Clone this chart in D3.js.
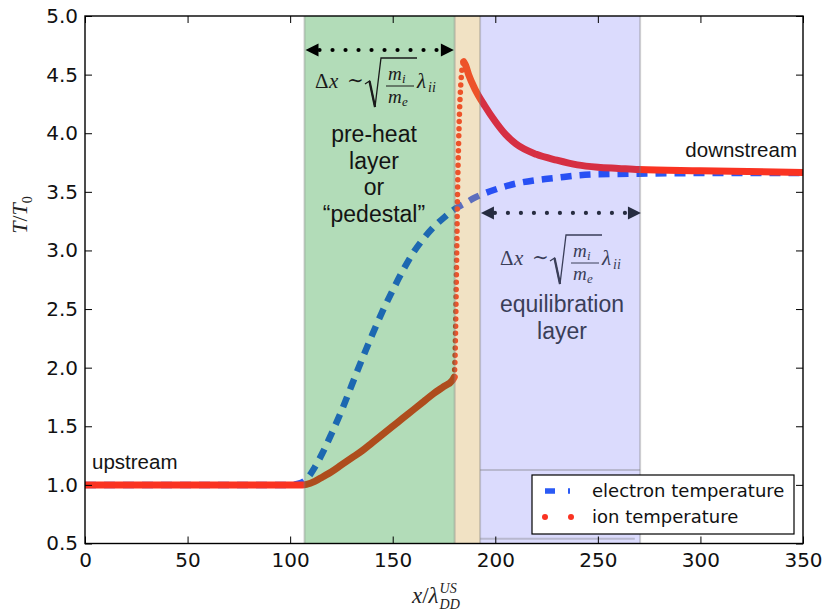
<!DOCTYPE html>
<html><head><meta charset="utf-8">
<script src="https://cdn.jsdelivr.net/npm/d3@7"></script>
<style>html,body{margin:0;padding:0;background:#fff;}svg{display:block;}</style>
</head><body>
<svg id="chart" width="825" height="611"></svg>
<script>
// ---- data ----
const xTicks = [0, 50, 100, 150, 200, 250, 300, 350];
const yTicks = [0.5, 1.0, 1.5, 2.0, 2.5, 3.0, 3.5, 4.0, 4.5, 5.0];
const electronX = [0, 50, 100, 104, 108, 112, 116, 120, 125, 130, 135, 140, 145, 150, 155, 160, 165, 170, 175, 180, 185, 190, 200, 210, 220, 230, 240, 250, 270, 300, 350];
const electronT = [1.0, 1.0, 1.0, 1.01, 1.05, 1.15, 1.28, 1.43, 1.63, 1.85, 2.07, 2.28, 2.48, 2.66, 2.83, 2.98, 3.10, 3.20, 3.28, 3.35, 3.40, 3.45, 3.52, 3.57, 3.60, 3.62, 3.64, 3.65, 3.655, 3.66, 3.66];
const ionX = [0, 50, 100, 106, 108, 112, 116, 120, 125, 130, 135, 140, 145, 150, 155, 160, 165, 170, 175, 179, 180, 180.4, 180.8, 181.2, 181.6, 182.1, 182.6, 183.2, 183.8, 184.6, 185.5, 187, 190, 195, 200, 205, 210, 220, 230, 240, 250, 260, 270, 300, 350];
const ionT = [1.0, 1.0, 1.0, 1.0, 1.005, 1.03, 1.07, 1.11, 1.17, 1.23, 1.29, 1.36, 1.43, 1.50, 1.57, 1.64, 1.71, 1.78, 1.84, 1.89, 1.92, 2.1, 2.5, 3.0, 3.5, 3.9, 4.2, 4.42, 4.55, 4.61, 4.58, 4.50, 4.38, 4.23, 4.10, 3.99, 3.91, 3.82, 3.77, 3.73, 3.71, 3.70, 3.69, 3.68, 3.665];
const steepStart = 180, steepEnd = 184.6;
const spanNames = ["preheat", "shock", "equil"];
const spanX0 = [107, 180.2, 192.6];
const spanX1 = [180.2, 192.6, 270.6];
const seriesNames = ["electron temperature", "ion temperature"];

// ---- setup ----
const M = {l: 85, r: 803, t: 16, b: 543.5};
const x = d3.scaleLinear().domain([0, 350]).range([M.l, M.r]);
const y = d3.scaleLinear().domain([0.5, 5]).range([M.b, M.t]);
const svg = d3.select("#chart");
const sans = '"Liberation Sans", Arial, Helvetica, sans-serif';
const serif = '"Liberation Serif", "DejaVu Serif", serif';
const tickFont = '"DejaVu Sans", sans-serif';

svg.append("defs").append("clipPath").attr("id", "pc")
  .append("rect").attr("x", M.l).attr("y", M.t).attr("width", M.r - M.l).attr("height", M.b - M.t);
const plot = svg.append("g").attr("clip-path", "url(#pc)");

const eData = electronX.map((v, i) => [v, electronT[i]]);
const iData = ionX.map((v, i) => [v, ionT[i]]);
const line = d3.line().x(d => x(d[0])).y(d => y(d[1])).curve(d3.curveMonotoneX);

const blue = "#2a5af5", red = "#fa3322";
plot.append("path").attr("d", line(eData)).attr("fill", "none")
  .attr("stroke", blue).attr("stroke-width", 6.5).attr("stroke-dasharray", "11 8");
const ionA = iData.filter(d => d[0] <= steepStart);
const ionB = iData.filter(d => d[0] >= steepStart && d[0] <= steepEnd);
const ionC = iData.filter(d => d[0] >= steepEnd);
[ionA, ionC].forEach(seg => plot.append("path").attr("d", line(seg)).attr("fill", "none")
  .attr("stroke", red).attr("stroke-width", 7).attr("stroke-linecap", "round"));
plot.append("path").attr("d", line(ionB))
  .attr("fill", "none").attr("stroke", red).attr("stroke-width", 5.5)
  .attr("stroke-linecap", "round").attr("stroke-dasharray", "0 7.3");

// spans over the curves
const spanFill = ["rgb(0,140,20)", "rgb(210,160,60)", "rgb(30,30,240)"];
const spanOp = [0.3, 0.3, 0.16];
spanNames.forEach((n, i) => {
  plot.append("rect").attr("x", x(spanX0[i])).attr("y", y(5)).attr("width", x(spanX1[i]) - x(spanX0[i]))
    .attr("height", y(0.5) - y(5)).attr("fill", spanFill[i]).attr("fill-opacity", spanOp[i]);
});
const edgeX = [107, 180.2, 192.6, 270.6];
const edgeCol = "rgba(120,120,120,0.35)";
edgeX.forEach(v => plot.append("line").attr("x1", x(v)).attr("x2", x(v)).attr("y1", y(5)).attr("y2", y(0.5))
  .attr("stroke", edgeCol).attr("stroke-width", 2));
plot.append("line").attr("x1", x(192.6)).attr("x2", x(270.6)).attr("y1", y(1.127)).attr("y2", y(1.127))
  .attr("stroke", edgeCol).attr("stroke-width", 2);
plot.append("line").attr("x1", x(192.6)).attr("x2", x(268)).attr("y1", y(0.54)).attr("y2", y(0.54))
  .attr("stroke", edgeCol).attr("stroke-width", 2);

// ---- axes ----
const fmt = d3.format(".1f");
const gx = svg.append("g").attr("transform", `translate(0,${M.b})`)
  .call(d3.axisBottom(x).tickValues(xTicks).tickSizeInner(-7).tickSizeOuter(0).tickPadding(9));
const gxt = svg.append("g").attr("transform", `translate(0,${M.t})`)
  .call(d3.axisTop(x).tickValues(xTicks).tickSizeInner(-7).tickSizeOuter(0).tickFormat(""));
const gy = svg.append("g").attr("transform", `translate(${M.l},0)`)
  .call(d3.axisLeft(y).tickValues(yTicks).tickSizeInner(-7).tickSizeOuter(0).tickPadding(7).tickFormat(fmt));
const gyr = svg.append("g").attr("transform", `translate(${M.r},0)`)
  .call(d3.axisRight(y).tickValues(yTicks).tickSizeInner(-7).tickSizeOuter(0).tickFormat(""));
[gx, gxt, gy, gyr].forEach(g => {
  g.select(".domain").remove();
  g.selectAll(".tick line").attr("stroke", "#000").attr("stroke-width", 1);
  g.selectAll(".tick text").attr("fill", "#111").style("font-family", tickFont).style("font-size", "20px");
});
svg.append("rect").attr("x", M.l).attr("y", M.t).attr("width", M.r - M.l).attr("height", M.b - M.t)
  .attr("fill", "none").attr("stroke", "#000").attr("stroke-width", 1.4);

// axis labels
const xl = svg.append("text").attr("x", 412).attr("y", 603).style("font-family", serif).style("font-size", "23px").attr("fill", "#222");
xl.append("tspan").style("font-style", "italic").text("x");
xl.append("tspan").text("/");
xl.append("tspan").style("font-style", "italic").text("λ");
const xlEnd = 412 + xl.node().getComputedTextLength() + 1;
svg.append("text").attr("x", xlEnd).attr("y", 593).style("font-family", serif).style("font-style", "italic").style("font-size", "14px").attr("fill", "#222").text("US");
svg.append("text").attr("x", xlEnd).attr("y", 609).style("font-family", serif).style("font-style", "italic").style("font-size", "14px").attr("fill", "#222").text("DD");

const yl = svg.append("text").attr("transform", "translate(27,215) rotate(-90)").attr("text-anchor", "middle")
  .style("font-family", serif).style("font-size", "22px").attr("fill", "#222");
yl.append("tspan").style("font-style", "italic").text("T");
yl.append("tspan").text("/");
yl.append("tspan").style("font-style", "italic").text("T");
yl.append("tspan").attr("dy", 5).style("font-size", "14px").text("0");

// ---- annotations ----
function arrow(xa, xb, yv, color) {
  const g = svg.append("g");
  const X0 = x(xa), X1 = x(xb), Y = y(yv);
  g.append("line").attr("x1", X0 + 14).attr("x2", X1 - 14).attr("y1", Y).attr("y2", Y)
    .attr("stroke", color).attr("stroke-width", 4.2).attr("stroke-linecap", "round").attr("stroke-dasharray", "0 13");
  g.append("path").attr("d", `M${X0},${Y} L${X0 + 13},${Y - 6.5} L${X0 + 13},${Y + 6.5} Z`).attr("fill", color);
  g.append("path").attr("d", `M${X1},${Y} L${X1 - 13},${Y - 6.5} L${X1 - 13},${Y + 6.5} Z`).attr("fill", color);
}
arrow(107.5, 179.8, 4.71, "#000");
arrow(193, 271, 3.32, "#262c40");

function formula(ox, oy, color) {
  const f = svg.append("g").attr("transform", `translate(${ox},${oy})`).attr("fill", color)
    .style("font-family", serif);
  f.append("text").attr("x", 0).attr("y", 0).style("font-size", "21px").text("Δ");
  f.append("text").attr("x", 14).attr("y", 0).style("font-size", "21px").style("font-style", "italic").text("x");
  f.append("text").attr("x", 32).attr("y", -1).style("font-size", "20px").text("∼");
  f.append("path").attr("d", "M50,-4 L54.5,-7 L60,19 L66,-30 L102,-30").attr("fill", "none")
    .attr("stroke", color).attr("stroke-width", 1.3).attr("stroke-linejoin", "miter");
  f.append("path").attr("d", "M54.5,-7 L60,19").attr("stroke", color).attr("stroke-width", 2.3);
  f.append("text").attr("x", 73).attr("y", -8).style("font-size", "19px").style("font-style", "italic").text("m");
  f.append("text").attr("x", 87).attr("y", -5).style("font-size", "13px").style("font-style", "italic").text("i");
  f.append("line").attr("x1", 71).attr("x2", 99).attr("y1", -2).attr("y2", -2).attr("stroke", color).attr("stroke-width", 1);
  f.append("text").attr("x", 73).attr("y", 15).style("font-size", "19px").style("font-style", "italic").text("m");
  f.append("text").attr("x", 87).attr("y", 18).style("font-size", "13px").style("font-style", "italic").text("e");
  f.append("text").attr("x", 102).attr("y", 0).style("font-size", "21px").style("font-style", "italic").text("λ");
  f.append("text").attr("x", 113).attr("y", 4).style("font-size", "14px").style("font-style", "italic").text("ii");
}
formula(315, 88, "#1a1a1a");
formula(500, 265, "#3a3e58");

function block(lines, cx, y0, dy, size, color) {
  lines.forEach((t, i) => svg.append("text").attr("x", cx).attr("y", y0 + i * dy).attr("text-anchor", "middle")
    .style("font-family", sans).style("font-size", size + "px").attr("fill", color).text(t));
}
block(["pre-heat", "layer", "or", "“pedestal”"], 374, 142, 26.6, 23, "#141414");
block(["equilibration", "layer"], 562, 312, 26.5, 23, "#3a3e58");
svg.append("text").attr("x", 92).attr("y", 469).style("font-family", sans).style("font-size", "20.5px").attr("fill", "#141414").text("upstream");
svg.append("text").attr("x", 797).attr("y", 157).attr("text-anchor", "end").style("font-family", sans).style("font-size", "20.5px").attr("fill", "#141414").text("downstream");

// ---- legend ----
const lg = svg.append("g");
lg.append("rect").attr("x", 532).attr("y", 475).attr("width", 262).attr("height", 59)
  .attr("fill", "#fff").attr("stroke", "#000").attr("stroke-width", 1.2);
lg.append("line").attr("x1", 545).attr("x2", 570).attr("y1", 491).attr("y2", 491)
  .attr("stroke", blue).attr("stroke-width", 5.5).attr("stroke-dasharray", "10 13");
[545, 571].forEach(cx => lg.append("circle").attr("cx", cx).attr("cy", 517).attr("r", 3).attr("fill", red));
seriesNames.forEach((n, i) => lg.append("text").attr("x", 592).attr("y", 497 + i * 26)
  .style("font-family", tickFont).style("font-size", "18px").attr("fill", "#111").text(n));
</script>
</body></html>
